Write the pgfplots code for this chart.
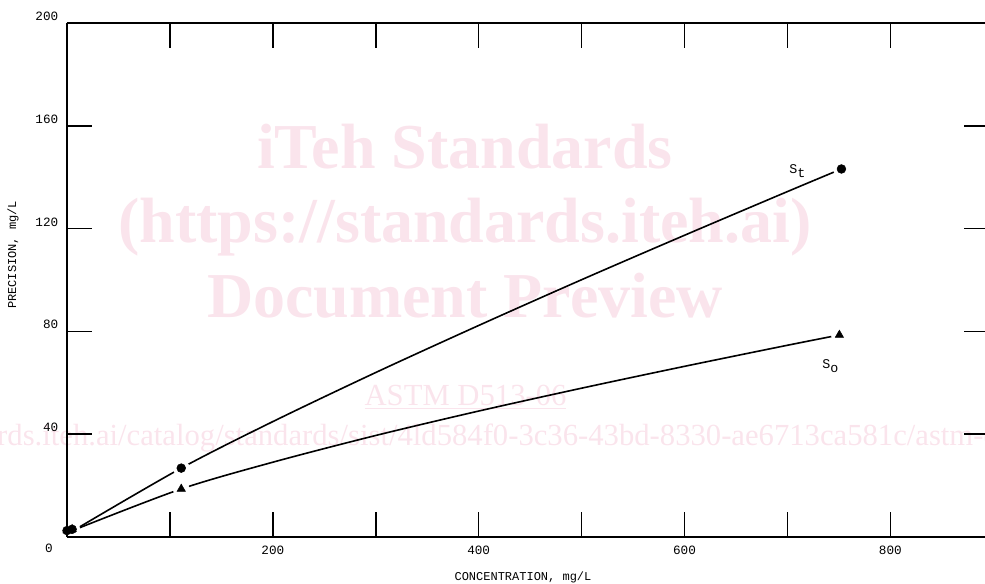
\documentclass[border=0pt]{standalone}
\usepackage{pgfplots}
\pgfplotsset{compat=1.18}
\usepackage{fontspec}
\setmainfont{Liberation Mono}
\newfontfamily\wmfont{Liberation Serif}
\definecolor{wm}{RGB}{250,228,236}

\begin{document}
\begin{tikzpicture}
\useasboundingbox (-50.25pt,-35.25pt) rectangle (688.5pt,402.75pt);
\clip (-50.25pt,-35.25pt) rectangle (688.5pt,402.75pt);
% watermark
\begin{scope}[wm]
\node[font=\wmfont\bfseries\fontsize{48}{48}\selectfont, anchor=base, inner sep=0pt] at (298.5pt,276pt) {iTeh Standards};
\node[font=\wmfont\bfseries\fontsize{48}{48}\selectfont, anchor=base, inner sep=0pt] at (298.5pt,220.5pt) {(https://standards.iteh.ai)};
\node[font=\wmfont\bfseries\fontsize{48}{48}\selectfont, anchor=base, inner sep=0pt] at (298.5pt,164.25pt) {Document Preview};
\node[font=\wmfont\fontsize{23}{23}\selectfont, anchor=base, inner sep=0pt] at (298.9pt,98.25pt) {\underline{ASTM D513-06}};
\node[font=\wmfont\fontsize{23}{23}\selectfont, anchor=base west, inner sep=0pt] at (-175.2pt,68.25pt) {https://standards.iteh.ai/catalog/standards/sist/4ld584f0-3c36-43bd-8330-ae6713ca581c/astm-d513-06};
\end{scope}

\begin{axis}[
  at={(0pt,0pt)}, anchor=south west,
  scale only axis, width=688.5pt, height=385.5pt,
  xmin=0, xmax=892, ymin=0, ymax=200,
  axis x line*=box, axis y line*=left,
  xtick={100,200,...,800}, xticklabels={,200,,400,,600,,800},
  ytick={40,80,120,160,200}, yticklabels={40,80,120,160,200},
  tick align=inside, major tick length=18.75pt,
  every tick/.style={black, line width=1.2pt},
  axis line style={line width=1.2pt},
  ticklabel style={font=\fontsize{9.5}{9.5}\selectfont},
  /pgf/number format/assume math mode=true,
  yticklabel style={yshift=5pt, xshift=-3pt},
  xticklabel style={yshift=-3pt},
  clip=false,
]
\addplot[black, line width=1.2pt, smooth] coordinates {(12.6,4.0) (111,26.8) (200,44.9) (300,64.0) (400,82.3) (500,100.1) (600,117.4) (700,134.4) (752.5,143.2)};
\addplot[black, line width=1.2pt, smooth] coordinates {(12.6,3.65) (111,18.7) (200,29.1) (300,39.5) (400,49.0) (500,57.9) (600,66.4) (700,74.6) (750.5,78.6)};
\addplot[only marks, mark=*, mark size=6pt, white] coordinates {(111,26.8) (752.5,143.2) (111,18.7) (750.5,78.6)};
\addplot[only marks, mark=*, mark size=3.3pt, black] coordinates {(111,26.8) (752.5,143.2) (0,2.5) (5,3)};
\addplot[only marks, mark=triangle*, mark size=3.6pt, black] coordinates {(111,18.7) (750.5,78.6) (0,2.5) (5,3)};
\node[font=\fontsize{10}{10}\selectfont] at (axis cs:709.7,142.4) {S\raisebox{-3pt}{t}};
\node[font=\fontsize{10}{10}\selectfont] at (axis cs:741.8,66.5) {S\raisebox{-3pt}{o}};
\node[font=\fontsize{9}{9}\selectfont] at (axis description cs:0.4967,-0.078) {CONCENTRATION, mg/L};
\node[font=\fontsize{9}{9}\selectfont, rotate=90] at (axis description cs:-0.0588,0.549) {PRECISION, mg/L};
\node[font=\fontsize{9.5}{9.5}\selectfont] at (axis description cs:-0.0196,-0.0214) {0};
\end{axis}

\begin{axis}[
  at={(0pt,0pt)}, anchor=south west,
  scale only axis, width=688.5pt, height=385.5pt,
  xmin=0, xmax=892, ymin=0, ymax=200,
  axis x line=none, axis y line*=right,
  y axis line style={draw=none},
  ytick={40,80,120,160}, yticklabels={},
  tick align=inside, major tick length=16pt,
  every tick/.style={black, line width=1.2pt},
]
\addplot[draw=none] coordinates {(0,0)};
\end{axis}
\end{tikzpicture}
\end{document}
